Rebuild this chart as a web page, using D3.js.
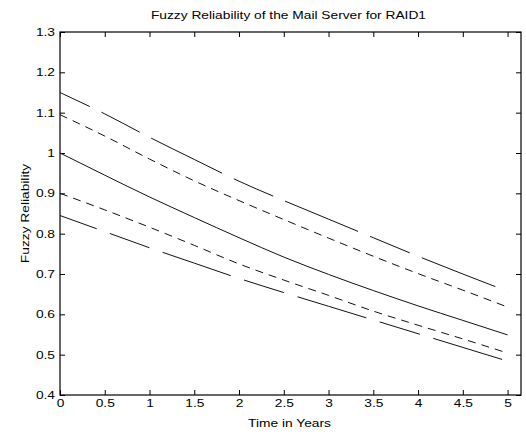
<!DOCTYPE html>
<html>
<head>
<meta charset="utf-8">
<script src="https://cdn.jsdelivr.net/npm/d3@7"></script>
<style>
  body { margin: 0; background: #fff; }
  text { font-family: "Liberation Sans", Arial, sans-serif; fill: #000; }
</style>
</head>
<body>
<div id="chart"></div>
<script>
let w = 526
let h = 432
let margin = {top: 32, right: 5, bottom: 37, left: 60}
let width = w - margin.left - margin.right
let height = h - margin.top - margin.bottom

// data, t = 0 .. 5 step 0.5
let TIME = [0, 0.5, 1, 1.5, 2, 2.5, 3, 3.5, 4, 4.5, 5]
let UPPER_OUTER = [1.150, 1.097, 1.039, 0.984, 0.930, 0.882, 0.836, 0.790, 0.744, 0.700, 0.657]
let UPPER_INNER = [1.095, 1.042, 0.985, 0.931, 0.882, 0.835, 0.789, 0.744, 0.701, 0.660, 0.618]
let CRISP = [1.000, 0.945, 0.891, 0.840, 0.790, 0.742, 0.699, 0.659, 0.621, 0.585, 0.549]
let LOWER_INNER = [0.900, 0.859, 0.816, 0.771, 0.725, 0.685, 0.647, 0.608, 0.573, 0.539, 0.504]
let LOWER_OUTER = [0.845, 0.805, 0.765, 0.727, 0.689, 0.654, 0.620, 0.586, 0.552, 0.518, 0.484]

let X_TICKS = [0, 0.5, 1, 1.5, 2, 2.5, 3, 3.5, 4, 4.5, 5]
let Y_TICKS = [0.4, 0.5, 0.6, 0.7, 0.8, 0.9, 1.0, 1.1, 1.2, 1.3]

let series = [
  {values: UPPER_OUTER, dash: "79,13,43,13", offset: 46},
  {values: UPPER_INNER, dash: "8,6", offset: 0},
  {values: CRISP, dash: null, offset: 0},
  {values: LOWER_INNER, dash: "8,6", offset: 0},
  {values: LOWER_OUTER, dash: "72,14,42,14", offset: 33}
]

let svg = d3.select("#chart")
  .append("svg")
  .attr("width", w)
  .attr("height", h)

let g = svg.append("g")
  .attr("transform", "translate(" + margin.left + "," + margin.top + ")")

let x = d3.scaleLinear().domain([0, 5.15]).range([0, width])
let y = d3.scaleLinear().domain([0.4, 1.3]).range([height, 0])

let fmt = d => String(+d.toFixed(1))

// Axes (ticks point inward, like MATLAB)
let styleAxis = sel => {
  sel.select(".domain").remove()
  sel.selectAll("line").attr("stroke", "#000")
  sel.selectAll("text").style("font-size", "11px")
}

g.append("g")
  .attr("transform", "translate(0," + height + ")")
  .call(d3.axisBottom(x).tickValues(X_TICKS).tickFormat(fmt).tickSizeInner(-5).tickSizeOuter(0).tickPadding(4))
  .call(styleAxis)

g.append("g")
  .call(d3.axisTop(x).tickValues(X_TICKS).tickFormat("").tickSizeInner(-5).tickSizeOuter(0))
  .call(styleAxis)

g.append("g")
  .call(d3.axisLeft(y).tickValues(Y_TICKS).tickFormat(fmt).tickSizeInner(-5).tickSizeOuter(0).tickPadding(5))
  .call(styleAxis)

g.append("g")
  .attr("transform", "translate(" + width + ",0)")
  .call(d3.axisRight(y).tickValues(Y_TICKS).tickFormat("").tickSizeInner(-5).tickSizeOuter(0))
  .call(styleAxis)

// frame
g.append("rect")
  .attr("width", width)
  .attr("height", height)
  .attr("fill", "none")
  .attr("stroke", "#000")
  .attr("stroke-width", 1.2)

// curves
let line = d3.line()
  .x((d, i) => x(TIME[i]))
  .y(d => y(d))
  .curve(d3.curveMonotoneX)

g.selectAll(".curve")
  .data(series)
  .enter()
  .append("path")
  .attr("class", "curve")
  .attr("d", d => line(d.values))
  .attr("fill", "none")
  .attr("stroke", "#111")
  .attr("stroke-width", 1)
  .attr("stroke-dasharray", d => d.dash)
  .attr("stroke-dashoffset", d => d.offset)

// labels
svg.append("text")
  .attr("x", margin.left + width / 2 - 2)
  .attr("y", 19)
  .attr("text-anchor", "middle")
  .style("font-size", "11px")
  .text("Fuzzy Reliability of the Mail Server for RAID1")

svg.append("text")
  .attr("x", margin.left + width / 2 - 1)
  .attr("y", 427)
  .attr("text-anchor", "middle")
  .style("font-size", "11px")
  .text("Time in Years")

svg.append("text")
  .attr("transform", "translate(29," + (margin.top + height / 2) + ") rotate(-90)")
  .attr("text-anchor", "middle")
  .style("font-size", "11px")
  .text("Fuzzy Reliability")

// the original lettering is set wider than the installed fonts
svg.selectAll("text").each(function() {
  let len = this.getComputedTextLength()
  if (len > 0) {
    d3.select(this)
      .attr("textLength", len * 1.25)
      .attr("lengthAdjust", "spacingAndGlyphs")
  }
})
</script>
</body>
</html>
